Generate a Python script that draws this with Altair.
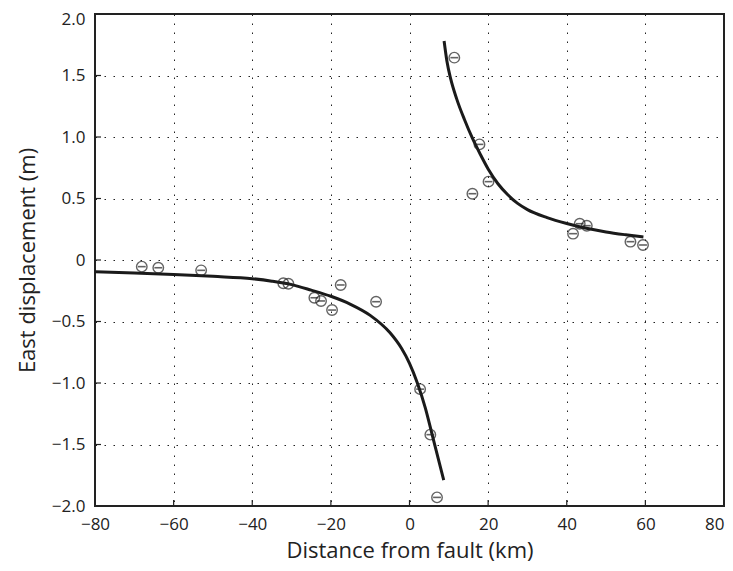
import altair as alt
import pandas as pd

# Observed data points (distance km, east displacement m)
obs_x = [-68.1, -63.9, -53.0, -32.1, -30.8, -24.2, -22.5, -19.7, -17.5, -8.5,
         2.7, 5.3, 7.0, 11.4, 17.8, 20.1, 16.0, 41.6, 43.3, 45.1, 56.2, 59.4]
obs_y = [-0.054, -0.063, -0.084, -0.189, -0.193, -0.307, -0.333, -0.407, -0.203, -0.339,
         -1.05, -1.42, -1.93, 1.645, 0.94, 0.637, 0.539, 0.214, 0.295, 0.279, 0.149, 0.122]

# Model curve, west branch
west_x = [-80, -70, -60, -50, -40, -35, -30, -25, -20, -15, -10, -5, -2, 0, 2, 4, 6, 8.7]
west_y = [-0.095, -0.105, -0.117, -0.133, -0.152, -0.172, -0.20, -0.245, -0.295, -0.36,
          -0.45, -0.59, -0.72, -0.84, -1.0, -1.2, -1.45, -1.79]
# Model curve, east branch
east_x = [8.8, 9.5, 10.5, 12, 14, 16, 18, 20, 22.5, 25, 27.5, 30, 35, 40, 45, 50, 55, 59.5]
east_y = [1.78, 1.62, 1.47, 1.31, 1.14, 0.99, 0.86, 0.74, 0.62, 0.53, 0.46, 0.41, 0.345,
          0.297, 0.258, 0.228, 0.205, 0.187]

x_ticks = [-80, -60, -40, -20, 0, 20, 40, 60, 80]
y_ticks = [-2.0, -1.5, -1.0, -0.5, 0.0, 0.5, 1.0, 1.5, 2.0]

W, H = 629, 492
FONT = "Open Sans"
INK = "#222"

obs = pd.DataFrame({"x": obs_x, "y": obs_y})
curve = pd.concat([
    pd.DataFrame({"x": west_x, "y": west_y, "branch": "west"}),
    pd.DataFrame({"x": east_x, "y": east_y, "branch": "east"}),
])

xscale = alt.Scale(domain=[-80, 80], nice=False, zero=False, padding=0)
yscale = alt.Scale(domain=[-2, 2], nice=False, zero=False, padding=0)

minus_expr = "datum.value == 0 ? '0' : replace(format(datum.value, '{f}'), '-', '\u2212')"

x_axis = alt.Axis(values=x_ticks, title="Distance from fault (km)",
                  labelExpr=minus_expr.format(f="d"),
                  labelAlign={"condition": {"test": "datum.value == 80", "value": "right"},
                              "value": "center"},
                  grid=True, gridDash=[1.5, 7.5], gridColor=INK, gridWidth=1,
                  ticks=False, domain=False, labelPadding=10, titlePadding=8,
                  labelFontSize=17, titleFontSize=22,
                  labelFont=FONT, titleFont=FONT,
                  labelColor=INK, titleColor=INK,
                  labelFontWeight="normal", titleFontWeight="normal")
y_axis = alt.Axis(values=y_ticks, title="East displacement (m)",
                  labelExpr=minus_expr.format(f=".1f"),
                  labelOffset={"condition": {"test": "datum.value == 2", "value": 5},
                               "value": 0},
                  grid=True, gridDash=[1.5, 7.5], gridColor=INK, gridWidth=1,
                  ticks=False, domain=False, labelPadding=10, titlePadding=12,
                  labelFontSize=17, titleFontSize=22,
                  labelFont=FONT, titleFont=FONT,
                  labelColor=INK, titleColor=INK,
                  labelFontWeight="normal", titleFontWeight="normal")

X = alt.X("x:Q", scale=xscale, axis=x_axis)
Y = alt.Y("y:Q", scale=yscale, axis=y_axis)

lines = alt.Chart(curve).mark_line(color="#1a1a1a", strokeWidth=3,
                                   interpolate="monotone").encode(
    x=X, y=Y, detail="branch:N")

circles = alt.Chart(obs).mark_point(shape="circle", size=110, filled=False,
                                    color=INK, strokeWidth=1.4).encode(x=X, y=Y)
bars = alt.Chart(obs).mark_point(shape="M-0.75,0L0.75,0", size=110, filled=False,
                                 color=INK, strokeWidth=1.6).encode(x=X, y=Y)

xt = pd.DataFrame({"x": x_ticks[1:-1]})
yt = pd.DataFrame({"y": y_ticks[1:-1]})
xtick_layer = alt.Chart(xt).mark_rule(color=INK, strokeWidth=1.2).encode(
    x=X, y=alt.value(H), y2=alt.value(H - 6))
ytick_layer = alt.Chart(yt).mark_rule(color=INK, strokeWidth=1.2).encode(
    y=Y, x=alt.value(0), x2=alt.value(6))

chart = alt.layer(xtick_layer, ytick_layer, lines, circles, bars).properties(
    width=W, height=H,
    autosize=alt.AutoSizeParams(type="none"),
    padding={"left": 87, "top": 6, "right": 1, "bottom": 57},
    background="white",
).configure_view(stroke=INK, strokeWidth=2)

chart.save("out.html", embed_options={"renderer": "svg", "actions": False})
